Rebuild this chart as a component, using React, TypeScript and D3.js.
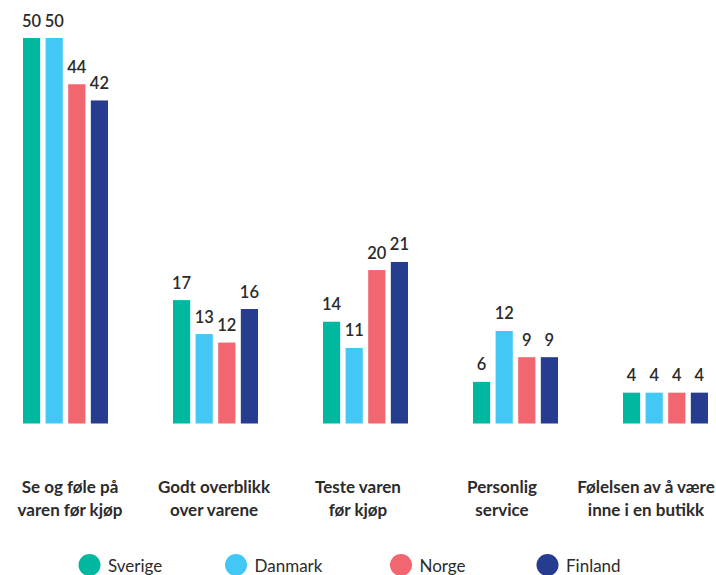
import React from "react";
import * as d3 from "d3";

const categories = [
  "Se og føle på varen før kjøp",
  "Godt overblikk over varene",
  "Teste varen før kjøp",
  "Personlig service",
  "Følelsen av å være inne i en butikk",
];
const categoryLines = [
  ["Se og føle på", "varen før kjøp"],
  ["Godt overblikk", "over varene"],
  ["Teste varen", "før kjøp"],
  ["Personlig", "service"],
  ["Følelsen av å være", "inne i en butikk"],
];
const series = ["Sverige", "Danmark", "Norge", "Finland"];
// bar heights
const sverige = [50, 16.0, 13.2, 5.4, 4.0];
const danmark = [50, 11.6, 9.8, 12.0, 4.0];
const norge = [44, 10.5, 19.9, 8.6, 4.0];
const finland = [41.9, 14.85, 20.95, 8.6, 4.0];
// value labels printed above the bars
const sverigeLabels = ["50", "17", "14", "6", "4"];
const danmarkLabels = ["50", "13", "11", "12", "4"];
const norgeLabels = ["44", "12", "20", "9", "4"];
const finlandLabels = ["42", "16", "21", "9", "4"];
const values = [sverige, danmark, norge, finland];
const labels = [sverigeLabels, danmarkLabels, norgeLabels, finlandLabels];
const colors = ["#00B8A0", "#43C8F5", "#F2666F", "#253C8F"];

const W = 716;
const H = 575;
const FONT = "Lato, 'Open Sans', sans-serif";
const TEXT = "#2b2b2b";

export default function App() {
  const x0 = d3.scaleBand<string>().domain(categories).range([-9.5, 740.5]).padding(0);
  const groupW = 85;
  const x1 = d3.scaleBand<string>().domain(series).range([0, groupW]).paddingInner(0.24).paddingOuter(0);
  const xLabel = d3.scalePoint<string>().domain(categories).range([70, 646]);
  const y = d3.scaleLinear().domain([0, 50]).range([423.5, 38]);
  const legendX = [89.5, 236, 401, 547.5];

  return (
    <svg
      width={W}
      height={H}
      style={{ position: "absolute", left: 0, top: 0, background: "#fff" }}
      fontFamily={FONT}
    >
      {categories.map((c, ci) => {
        const gx = (x0(c) as number) + (x0.bandwidth() - groupW) / 2;
        const lx = xLabel(c) as number;
        return (
          <g key={c}>
            {series.map((s, si) => {
              const v = values[si][ci];
              const bx = gx + (x1(s) as number);
              return (
                <g key={s}>
                  <rect
                    x={bx}
                    y={y(v)}
                    width={x1.bandwidth()}
                    height={y(0) - y(v)}
                    fill={colors[si]}
                  />
                  <text
                    x={bx + x1.bandwidth() / 2}
                    y={y(v) - 11.5}
                    textAnchor="middle"
                    fontSize={16.5}
                    fontWeight={600}
                    fill={TEXT}
                  >
                    {labels[si][ci]}
                  </text>
                </g>
              );
            })}
            {categoryLines[ci].map((line, li) => (
              <text
                key={li}
                x={lx}
                y={493 + li * 23}
                textAnchor="middle"
                fontSize={17}
                fontWeight={700}
                fill={TEXT}
              >
                {line}
              </text>
            ))}
          </g>
        );
      })}
      {series.map((s, si) => (
        <g key={s}>
          <circle cx={legendX[si]} cy={565} r={11} fill={colors[si]} />
          <text x={legendX[si] + 18.5} y={571.5} fontSize={17} fill={TEXT}>
            {s}
          </text>
        </g>
      ))}
    </svg>
  );
}
